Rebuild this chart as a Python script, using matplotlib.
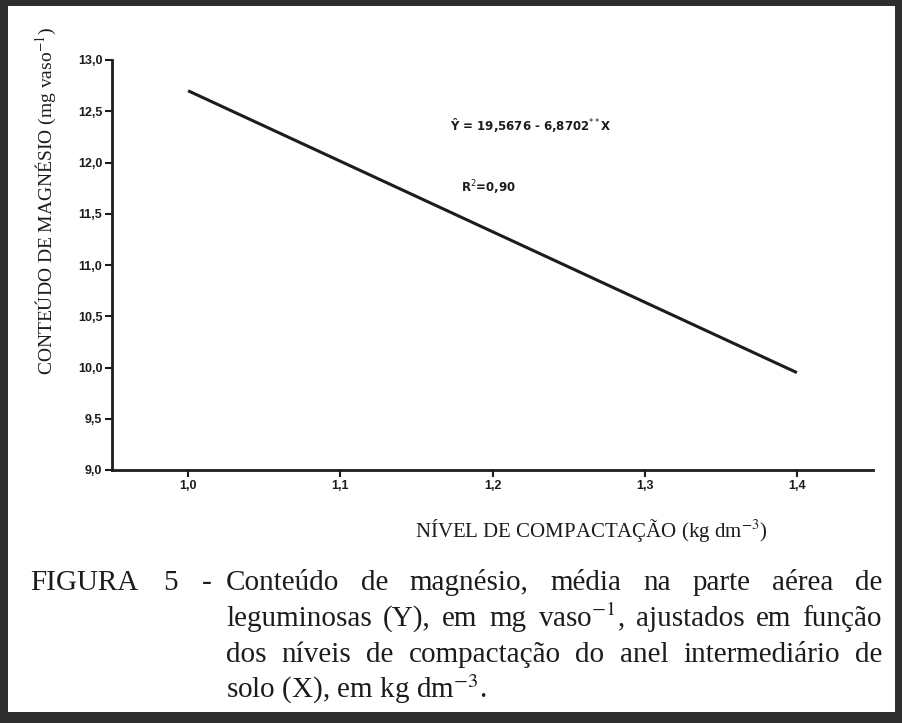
import matplotlib
matplotlib.use("Agg")
import matplotlib.pyplot as plt
from matplotlib.patches import Rectangle

# values (fitted line end points)
nivel = [1.0, 1.4]
magnesio = [12.70, 9.95]

x_ticks = [1.0, 1.1, 1.2, 1.3, 1.4]
x_ticklabels = ["1,0", "1,1", "1,2", "1,3", "1,4"]
y_ticks = [9.0, 9.5, 10.0, 10.5, 11.0, 11.5, 12.0, 12.5, 13.0]
y_ticklabels = ["9,0", "9,5", "10,0", "10,5", "11,0", "11,5", "12,0", "12,5", "13,0"]

equacao = "Ŷ = 19,5676 - 6,8702$^{**}$X"
r2 = "R$^{2}$=0,90"
xlabel = r"NÍVEL DE COMPACTAÇÃO (kg dm$^{-3}$)"
ylabel = r"CONTEÚDO DE MAGNÉSIO (mg vaso$^{-1}$)"

cap_prefix = ["FIGURA", "5", "-"]
cap_line1 = "Conteúdo de magnésio, média na parte aérea de".split()
cap_line2 = ["leguminosas", "(Y),", "em", "mg", r"vaso$^{-1}$,", "ajustados", "em", "função"]
cap_line3 = "dos níveis de compactação do anel intermediário de".split()
cap_line4 = r"solo (X), em kg dm$^{-3}$."

W, H = 903, 723
fig = plt.figure(figsize=(W / 100, H / 100), dpi=100)
fig.patch.set_facecolor("white")


def px(x, y):
    return x / W, 1 - y / H


ink = "#1c1c1c"
ax = fig.add_axes([112 / W, 1 - 470 / H, (873 - 112) / W, (470 - 60) / H])
ax.plot(nivel, magnesio, color=ink, lw=2.2, solid_capstyle="butt")
ax.set_xlim(0.95, 1.45)
ax.set_ylim(9.0, 13.0)
ax.set_xticks(x_ticks)
ax.set_xticklabels(x_ticklabels)
ax.set_yticks(y_ticks)
ax.set_yticklabels(y_ticklabels)
for s in ["top", "right"]:
    ax.spines[s].set_visible(False)
for s in ["left", "bottom"]:
    ax.spines[s].set_linewidth(2.0)
    ax.spines[s].set_color(ink)
ax.tick_params(direction="out", length=5, width=1.5, color=ink, pad=2,
               labelsize=9, labelcolor=ink)
for lab in ax.get_xticklabels() + ax.get_yticklabels():
    lab.set_fontweight("bold")
    lab.set_family("Liberation Sans")

ax.text(1.172, 12.37, equacao, ha="left", va="center", fontsize=8.5,
        fontweight="bold", family="DejaVu Sans", color=ink,
        math_fontfamily="dejavusans")
ax.text(1.179, 11.75, r2, ha="left", va="center", fontsize=8.5,
        fontweight="bold", family="DejaVu Sans", color=ink,
        math_fontfamily="dejavusans")

serif = dict(family="Liberation Serif", color=ink, math_fontfamily="stix")
fig.text(*px(415, 537), xlabel, ha="left", va="baseline", fontsize=15, **serif)
fig.text(*px(46, 201), ylabel, ha="center", va="center", rotation=90,
         fontsize=14, **serif)

# caption, justified like the printed page
renderer = fig.canvas.get_renderer()
cap_size = 21


def justify(words, left, right, baseline):
    texts = [fig.text(0, 0, w, fontsize=cap_size, va="baseline", **serif)
             for w in words]
    widths = [t.get_window_extent(renderer).width for t in texts]
    gap = (right - left - sum(widths)) / (len(words) - 1)
    x = left
    for t, w in zip(texts, widths):
        t.set_position(px(x, baseline))
        x += w + gap


justify(cap_prefix, 30, 212, 590)
justify(cap_line1, 226, 882, 590)
justify(cap_line2, 226, 882, 626)
justify(cap_line3, 226, 882, 662)
fig.text(*px(226, 698), cap_line4, fontsize=cap_size, va="baseline", **serif)

# dark frame of the scanned box
frame = "#2e2e2e"
for x0, y0, x1, y1 in [(0, 0, 8, H), (895, 0, W, H), (0, 0, W, 6), (0, 712, W, H)]:
    fig.add_artist(Rectangle((x0 / W, 1 - y1 / H), (x1 - x0) / W, (y1 - y0) / H,
                             transform=fig.transFigure, color=frame, lw=0))

fig.savefig("out.png", dpi=100)
